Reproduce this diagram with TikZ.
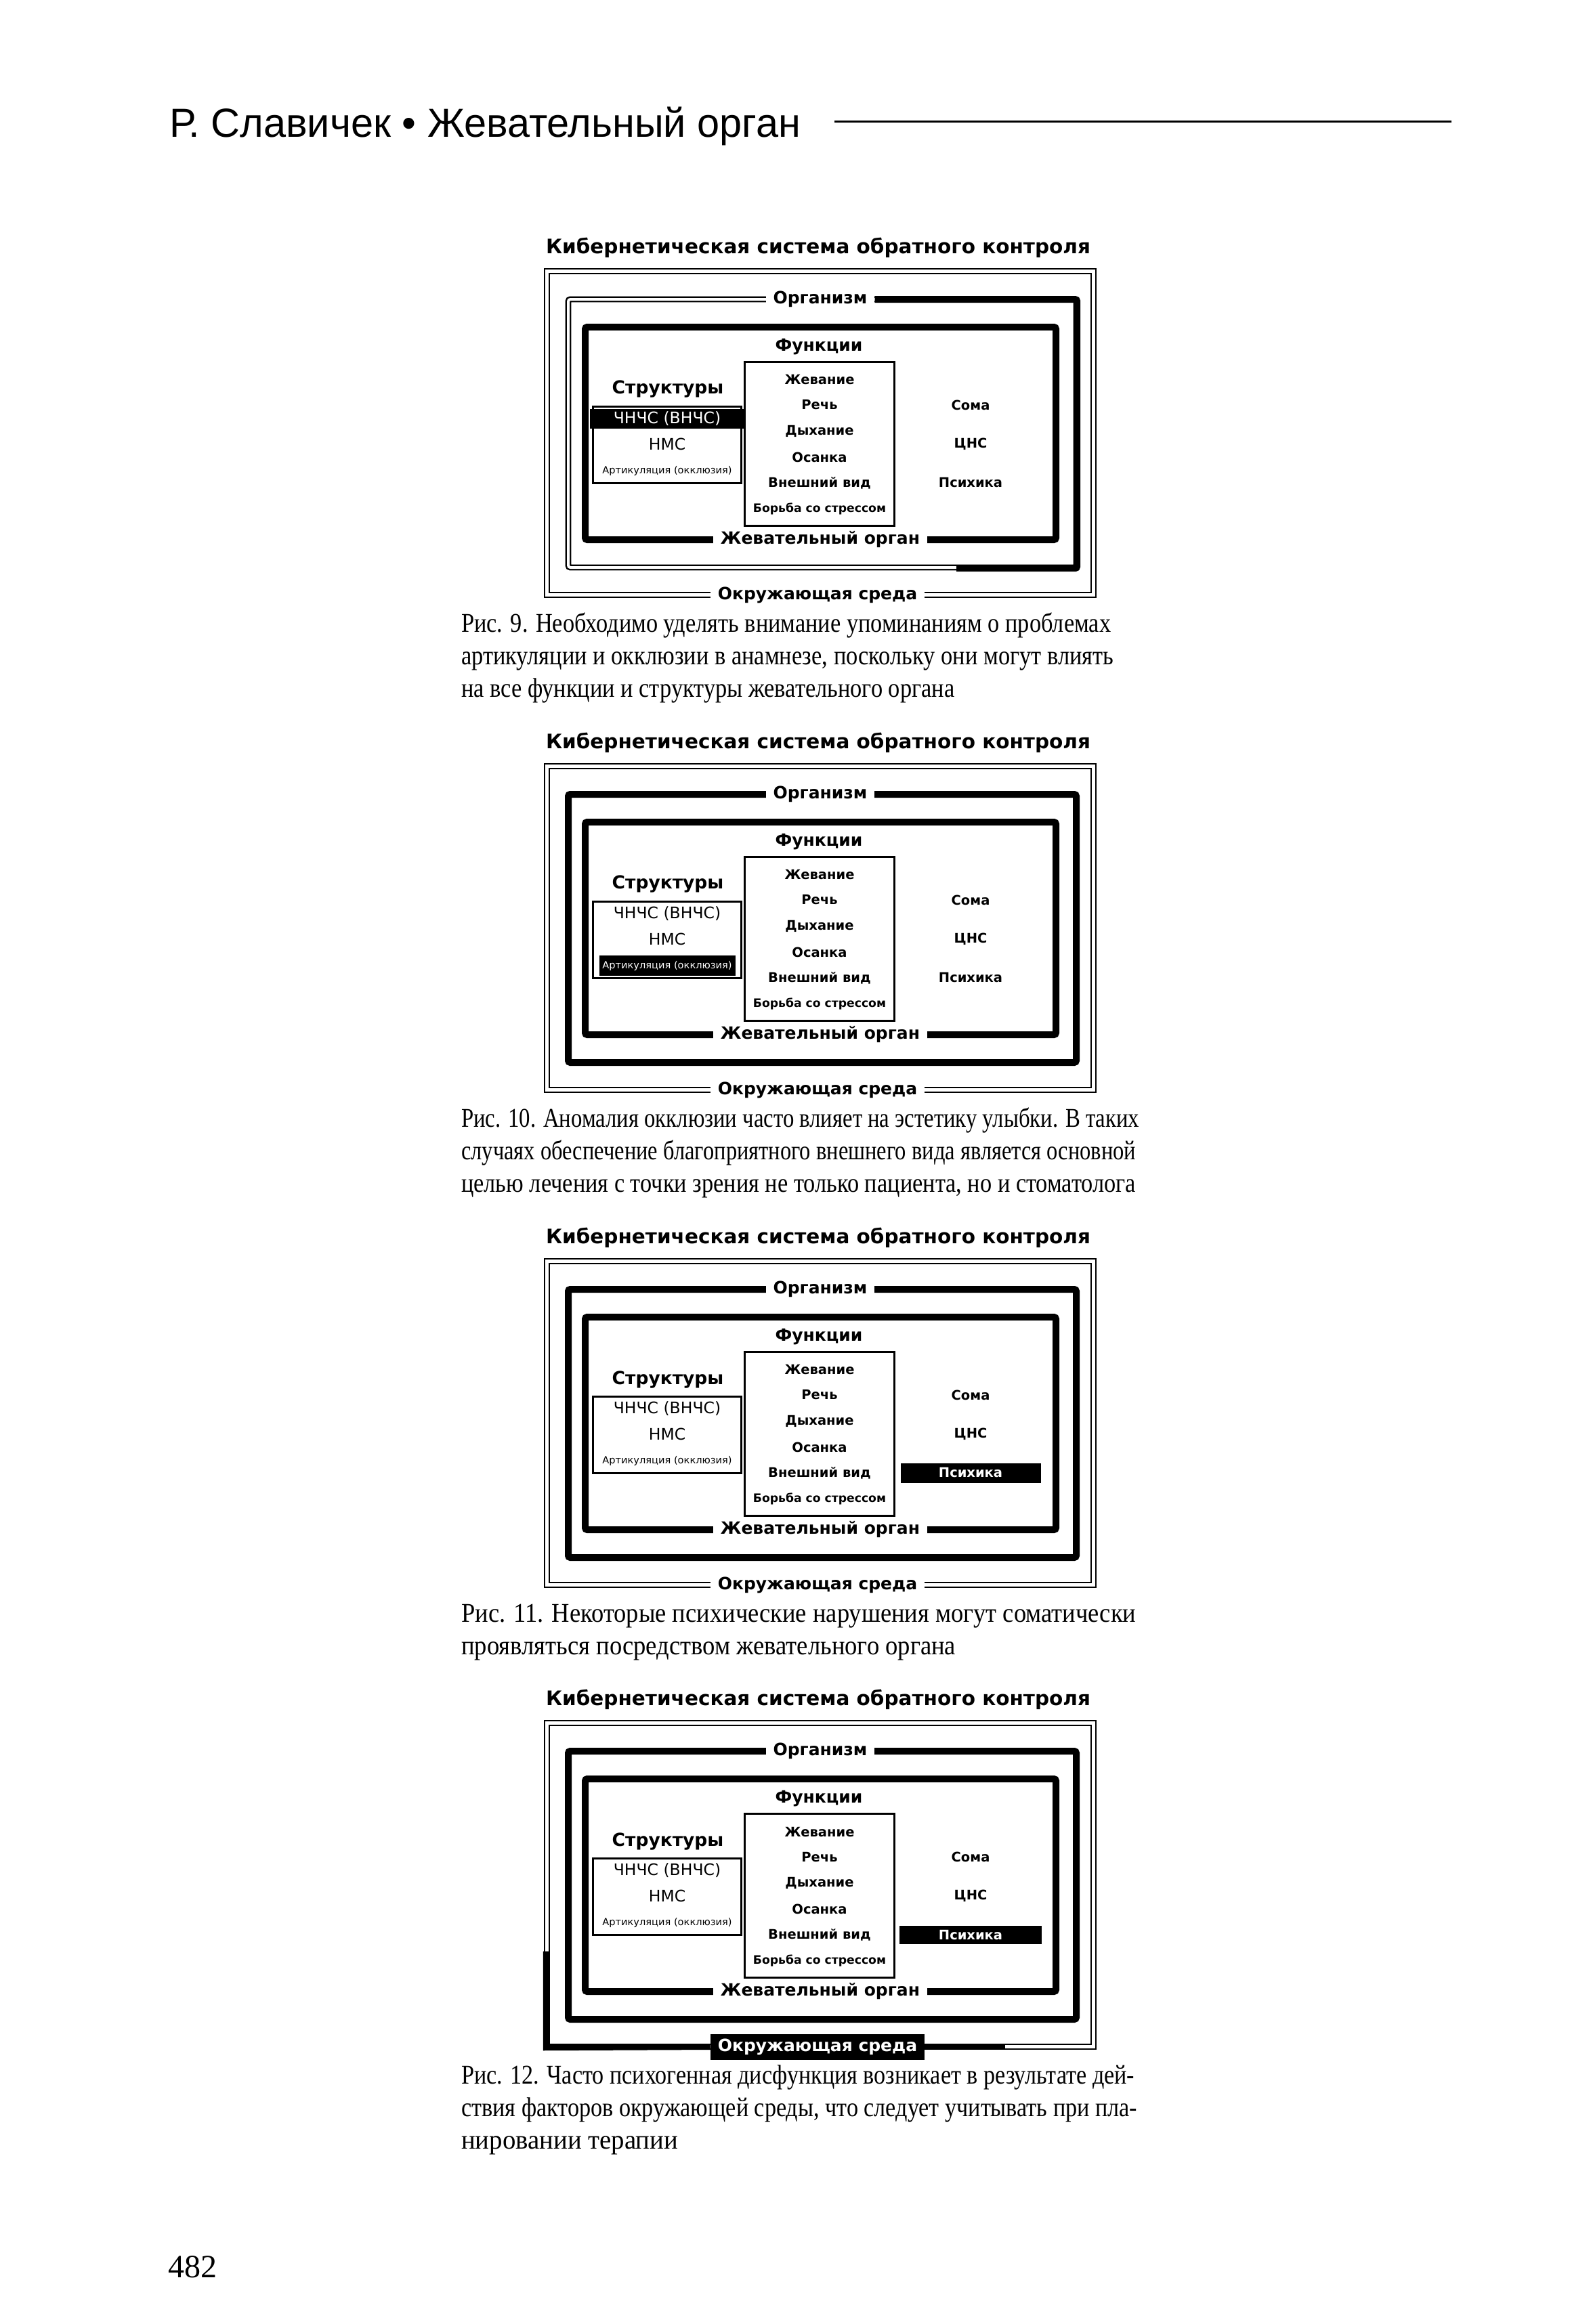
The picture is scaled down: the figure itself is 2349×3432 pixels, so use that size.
\documentclass[tikz,border=0pt]{standalone}
\usepackage{fontspec}
\usepackage{graphicx}
\setmainfont{Liberation Serif}
\newfontfamily\dfont{DejaVu Sans}
\newfontfamily\hfont{Liberation Sans}
\newfontfamily\cfont[FakeStretch=0.86]{Liberation Serif}
\usetikzlibrary{calc}
\newcommand\fitw[2]{\resizebox{#1pt}{\height}{#2}}
\tikzset{
  thickframe/.style={draw, line width=10pt, rounded corners=3pt, inner sep=0pt},
  envframe/.style={draw, double, double distance=5pt, line width=2.4pt, inner sep=0pt},
  thinbox/.style={draw, line width=3pt, inner sep=0pt},
  ttl/.style={font=\dfont\bfseries\fontsize{29.5}{33}\selectfont, inner sep=0pt},
  biglab/.style={font=\dfont\bfseries\fontsize{25}{29}\selectfont, inner sep=0pt},
  framelab/.style={biglab, fill=white, inner xsep=11pt, inner ysep=5pt},
  itm/.style={font=\dfont\bfseries\fontsize{19.5}{23}\selectfont, inner sep=0pt},
  srow/.style={font=\dfont\fontsize{23.5}{27}\selectfont, inner sep=0pt},
  ssmall/.style={font=\dfont\fontsize{14.6}{18}\selectfont, inner sep=0pt},
  hl/.style={fill=black, text=white},
  capline/.style={font=\cfont\fontsize{40}{48}\selectfont, anchor=base west, inner sep=0pt},
}
% #1 id, #2 T, #3 ЧНЧС row, #4 Артикуляция row, #5 Психика, #6 env label, #7 organism frame
\newcommand\Kdiag[7]{%
\begin{scope}[shift={(0,#2)}]
  \node[ttl] (title#1) at (1208,0) {Кибернетическая система обратного контроля};
  \node[envframe, minimum width=807pt, minimum height=478pt] (env#1) at (1211,273.5) {};
  \node[thickframe, minimum width=750pt, minimum height=396pt, #7] (org#1) at (1214,274) {};
  \node[thickframe, minimum width=695pt, minimum height=314pt] (mo#1) at (1211.5,274) {};
  \node[framelab] (orgl#1) at (1211,76) {Организм};
  \node[framelab] (mol#1) at (1211,431) {Жевательный орган};
  \node[framelab, #6] (envl#1) at (1207,512.5) {Окружающая среда};
  \node[biglab] (fl#1) at (1209,146) {Функции};
  \node[thinbox, minimum width=221pt, minimum height=242pt] (fb#1) at (1209.5,289) {};
  \node[itm] (f1#1) at (1210,195) {Жевание};
  \node[itm] (f2#1) at (1210,232) {Речь};
  \node[itm] (f3#1) at (1210,271) {Дыхание};
  \node[itm] (f4#1) at (1210,309) {Осанка};
  \node[itm] (f5#1) at (1210,347) {Внешний вид};
  \node[itm, font=\dfont\bfseries\fontsize{17.2}{21}\selectfont] (f6#1) at (1210,385) {Борьба со стрессом};
  \node[biglab, font=\dfont\bfseries\fontsize{26.5}{30}\selectfont] (sl#1) at (986,209) {Структуры};
  \node[thinbox, minimum width=219pt, minimum height=113pt] (sb#1) at (984.5,290.5) {};
  \node[srow, #3] (s1#1) at (985,252) {ЧНЧС (ВНЧС)};
  \node[srow] (s2#1) at (985,290) {НМС};
  \node[ssmall, #4] (s3#1) at (985,329) {Артикуляция (окклюзия)};
  \node[itm] (r1#1) at (1433,232) {Сома};
  \node[itm] (r2#1) at (1433,290) {ЦНС};
  \node[itm, #5] (r3#1) at (1433,347) {Психика};
\end{scope}}
\begin{document}
\begin{tikzpicture}[x=1pt,y=-1pt]
\fill[white] (0,0) rectangle (2349,3432);
\useasboundingbox (0,0) rectangle (2349,3432);
% header
\node[font=\hfont\fontsize{60}{62}\selectfont, anchor=base west, inner sep=0pt] (hdr) at (250,202) {\fitw{932}{Р. Славичек • Жевательный орган}};
\coordinate (rulea) at (1232,179);
\coordinate (ruleb) at (2143,179);
\draw[line width=3pt] (rulea) -- (ruleb);

% Fig 9
\Kdiag{a}{366}{hl, minimum width=228pt, minimum height=29pt}{}{}{}{line width=2.4pt, double, double distance=4pt}
\draw[line width=10pt, rounded corners=3pt] (orgla.east) -| (orga.south east) -- ++(-178,0);
\node[capline] (ca1) at (681,933) {\fitw{959}{Рис. 9. Необходимо уделять внимание упоминаниям о проблемах}};
\node[capline] (ca2) at (681,981) {\fitw{963}{артикуляции и окклюзии в анамнезе, поскольку они могут влиять}};
\node[capline] (ca3) at (681,1029) {на все функции и структуры жевательного органа};

% Fig 10
\Kdiag{b}{1097}{}{hl, minimum width=201pt, minimum height=30pt}{}{}{}
\node[capline] (cb1) at (681,1664) {\fitw{1001}{Рис. 10. Аномалия окклюзии часто влияет на эстетику улыбки. В таких}};
\node[capline] (cb2) at (681,1712) {\fitw{996}{случаях обеспечение благоприятного внешнего вида является основной}};
\node[capline] (cb3) at (681,1760) {\fitw{996}{целью лечения с точки зрения не только пациента, но и стоматолога}};

% Fig 11
\Kdiag{c}{1828}{}{}{hl, minimum width=207pt, minimum height=29pt}{}{}
\node[capline] (cc1) at (681,2395) {\fitw{996}{Рис. 11. Некоторые психические нарушения могут соматически}};
\node[capline] (cc2) at (681,2443) {\fitw{730}{проявляться посредством жевательного органа}};

% Fig 12
\Kdiag{d}{2510}{}{}{hl, minimum width=210pt, minimum height=27pt}{hl, inner ysep=7pt}{}
\draw[line width=9pt] ([yshift=-98pt]envd.west) -- (envd.south west) -- (envld.west);
\draw[line width=9pt] (envld.east) -- ++(119,0);
\node[capline] (cd1) at (681,3077) {\fitw{994}{Рис. 12. Часто психогенная дисфункция возникает в результате дей-}};
\node[capline] (cd2) at (681,3125) {\fitw{998}{ствия факторов окружающей среды, что следует учитывать при пла-}};
\node[capline] (cd3) at (681,3173) {\fitw{320}{нировании терапии}};

% page number
\node[font=\fontsize{48}{50}\selectfont, anchor=base west, inner sep=0pt] (pg) at (248,3363) {482};
\end{tikzpicture}
\end{document}
